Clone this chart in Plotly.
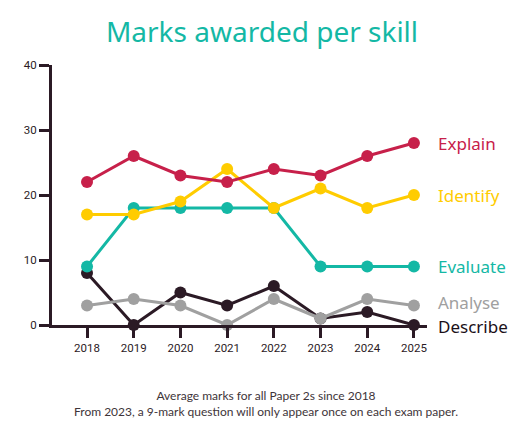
import plotly.graph_objects as go

years = ["2018", "2019", "2020", "2021", "2022", "2023", "2024", "2025"]
explain = [22, 26, 23, 22, 24, 23, 26, 28]
identify = [17, 17, 19, 24, 18, 21, 18, 20]
evaluate = [9, 18, 18, 18, 18, 9, 9, 9]
analyse = [3, 4, 3, 0, 4, 1, 4, 3]
describe = [8, 0, 5, 3, 6, 1, 2, 0]
y_ticks = [0, 10, 20, 30, 40]

series = [
    ("Describe", describe, "#2B1A25"),
    ("Analyse", analyse, "#A0A0A0"),
    ("Evaluate", evaluate, "#14B8A5"),
    ("Identify", identify, "#FFCC00"),
    ("Explain", explain, "#C7204A"),
]
label_shift = {"Describe": -1, "Analyse": 3}

AX = "#2B1A25"
W, H = 523, 421
ML, MR, MT, MB = 44, 104, 57, 104
fig = go.Figure()
for name, vals, col in series:
    fig.add_trace(go.Scatter(
        x=list(range(len(years))), y=vals, mode="lines+markers", name=name,
        line=dict(color=col, width=3), marker=dict(color=col, size=12),
        cliponaxis=False, showlegend=False,
    ))
    fig.add_annotation(
        x=len(years) - 1, y=vals[-1], xref="x", yref="y", text=name,
        showarrow=False, xanchor="left", yanchor="middle", xshift=22,
        yshift=label_shift.get(name, 0),
        font=dict(family="Noto Sans", size=17,
                  color=("#1A1018" if name == "Describe" else col)),
    )

fig.update_layout(
    width=W, height=H,
    margin=dict(l=ML, r=MR, t=MT, b=MB),
    paper_bgcolor="white", plot_bgcolor="white",
    title=dict(text="Marks awarded per skill", x=(262 - 8) / W, xanchor="center",
               y=1 - (32 - 8) / H, yanchor="middle",
               font=dict(family="Noto Sans", size=28, color="#14B8A5")),
    xaxis=dict(range=[-0.75, 7.28], tickmode="array",
               tickvals=list(range(len(years))), ticktext=years,
               showgrid=False, zeroline=False, showline=True, linecolor=AX,
               linewidth=3, ticks="outside", ticklen=10, tickwidth=3,
               tickcolor=AX,
               tickfont=dict(family="Liberation Sans Narrow, Roboto", size=11.5, color=AX)),
    yaxis=dict(range=[0, 40], tickvals=y_ticks, showgrid=False, zeroline=False,
               showline=True, linecolor=AX, linewidth=3, ticks="outside",
               ticklen=10, tickwidth=3, tickcolor=AX,
               tickfont=dict(family="Liberation Sans Narrow, Roboto", size=11.5, color=AX)),
)

plot_h = H - MT - MB
plot_w = W - ML - MR
fig.add_annotation(
    x=(266 - 8 - ML) / plot_w, y=(H - MB - (403 - 8)) / plot_h,
    xref="paper", yref="paper",
    text="Average marks for all Paper 2s since 2018<br>From 2023, a 9-mark question will only appear once on each exam paper.",
    showarrow=False, xanchor="center", yanchor="middle", align="center",
    font=dict(family="Lato", size=12, color="#3E3439"),
)

fig.write_html("out.html")
